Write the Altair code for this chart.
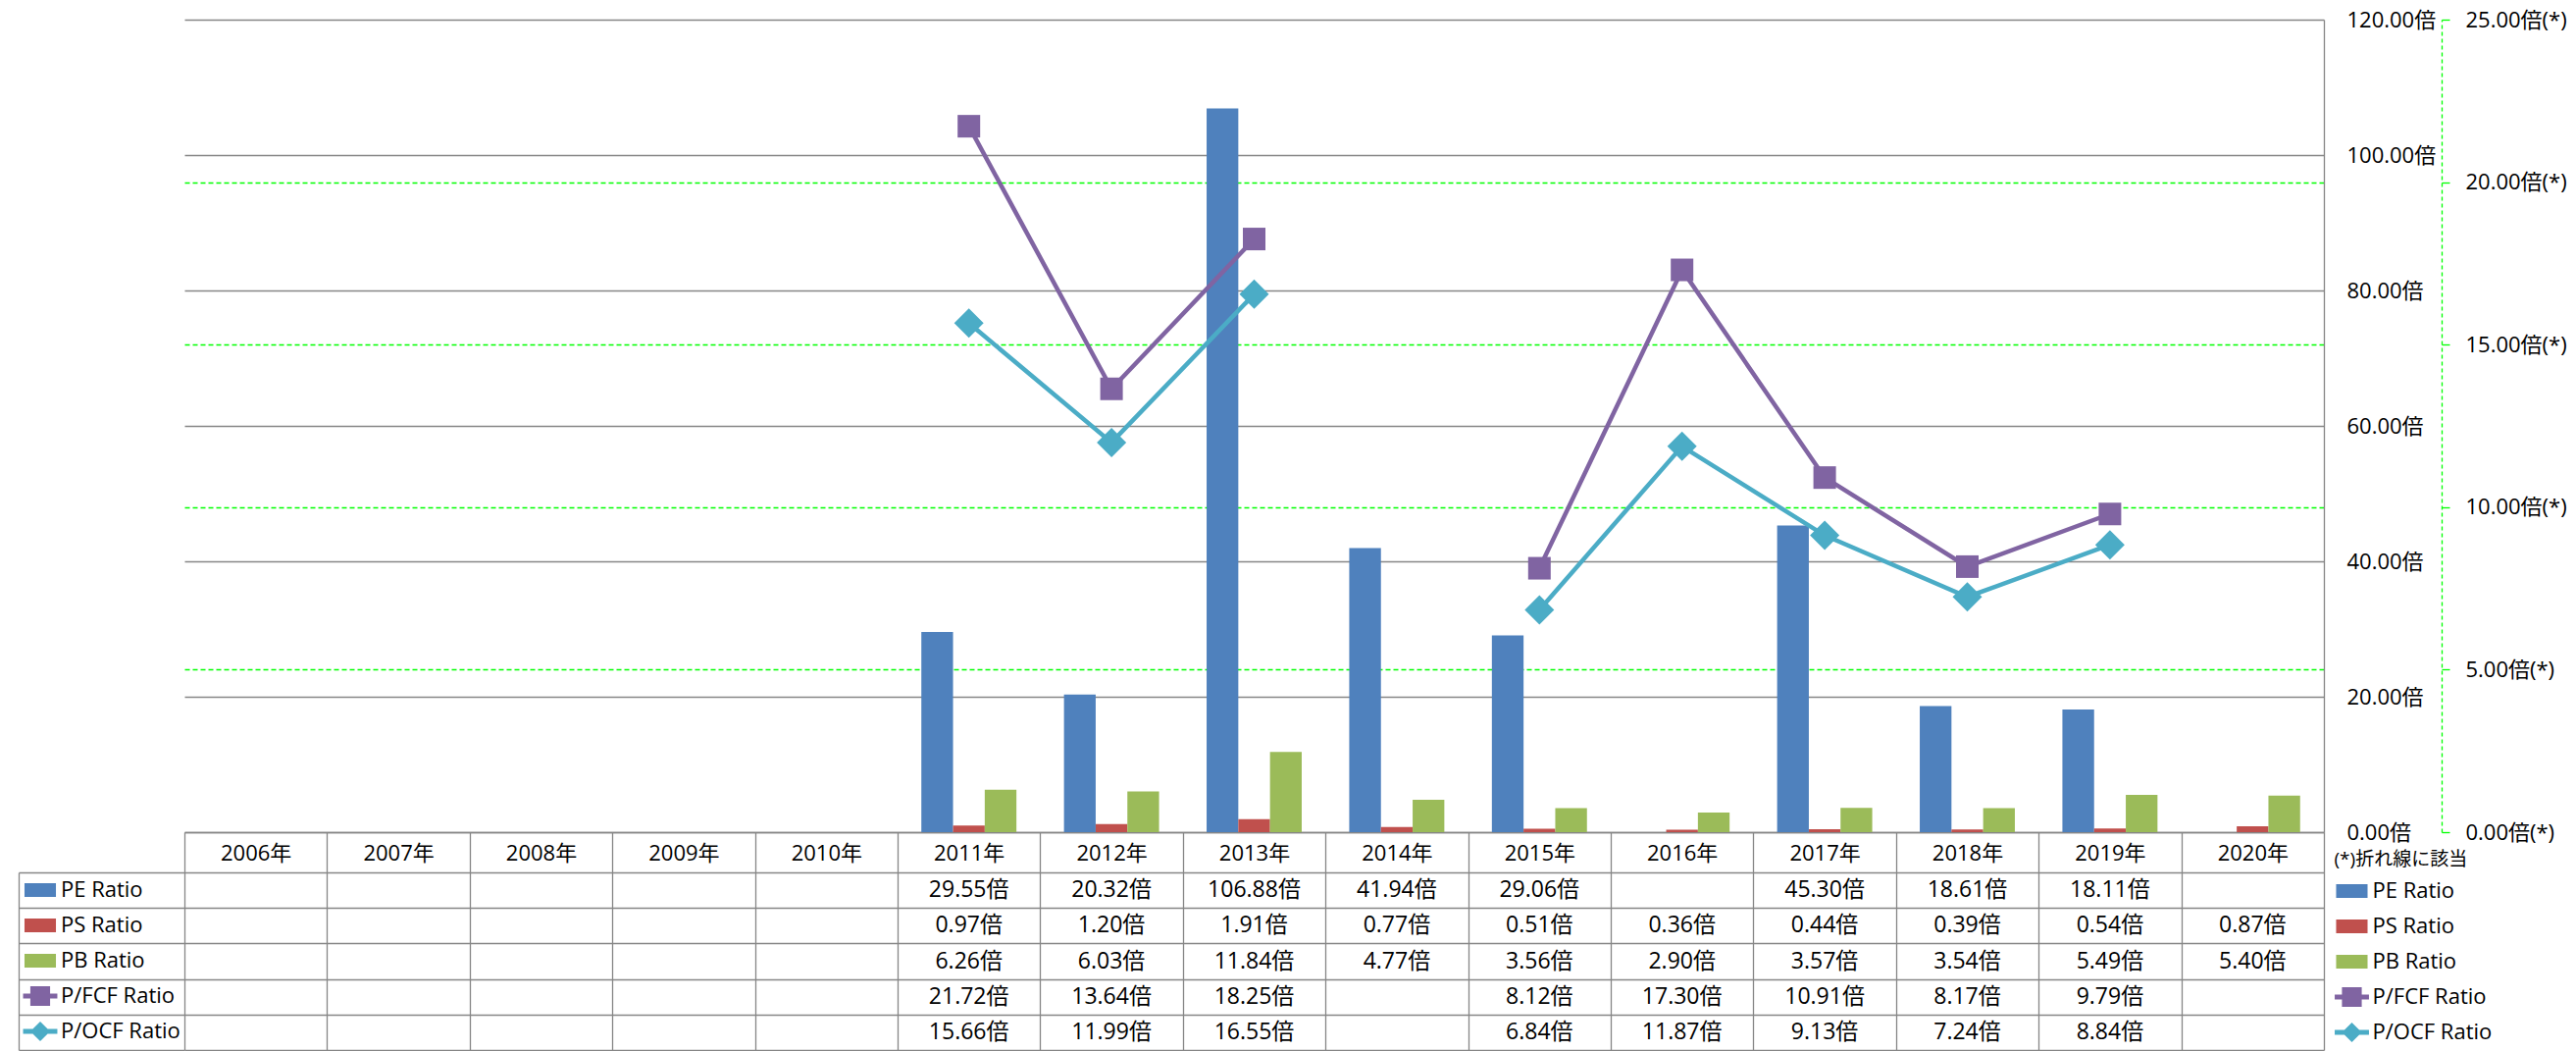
import altair as alt
import pandas as pd

# ---------------- data ----------------
years = ["2006年", "2007年", "2008年", "2009年", "2010年", "2011年", "2012年", "2013年",
         "2014年", "2015年", "2016年", "2017年", "2018年", "2019年", "2020年"]
series = ["PE Ratio", "PS Ratio", "PB Ratio", "P/FCF Ratio", "P/OCF Ratio"]
bar_series = ["PE Ratio", "PS Ratio", "PB Ratio"]
line_series = ["P/FCF Ratio", "P/OCF Ratio"]

pe = [None, None, None, None, None, 29.55, 20.32, 106.88, 41.94, 29.06, None, 45.30, 18.61, 18.11, None]
ps = [None, None, None, None, None, 0.97, 1.20, 1.91, 0.77, 0.51, 0.36, 0.44, 0.39, 0.54, 0.87]
pb = [None, None, None, None, None, 6.26, 6.03, 11.84, 4.77, 3.56, 2.90, 3.57, 3.54, 5.49, 5.40]
fcf = [None, None, None, None, None, 21.72, 13.64, 18.25, None, 8.12, 17.30, 10.91, 8.17, 9.79, None]
ocf = [None, None, None, None, None, 15.66, 11.99, 16.55, None, 6.84, 11.87, 9.13, 7.24, 8.84, None]

left_ticks = [0, 20, 40, 60, 80, 100, 120]
right_ticks = [0, 5, 10, 15, 20, 25]

colors = ["#4F81BD", "#C0504D", "#9BBB59", "#8064A2", "#4BACC6"]

# ---------------- styling ----------------
FONT = "Open Sans, Noto Sans CJK JP, sans-serif"
GRAY = "#868686"
GREEN = "#00FF00"
W, H = 2181, 828
TABLE_H = 222

# legend key shapes (custom paths)
legend_paths = [
    "M-0.89,-0.39H0.89V0.39H-0.89Z",
    "M-0.89,-0.39H0.89V0.39H-0.89Z",
    "M-0.89,-0.39H0.89V0.39H-0.89Z",
    "M-0.97,-0.14H-0.56V-0.56H0.56V-0.14H0.97V0.14H0.56V0.56H-0.56V0.14H-0.97Z",
    "M-0.97,-0.14H-0.42L0,-0.56L0.42,-0.14H0.97V0.14H0.42L0,0.56L-0.42,0.14H-0.97Z",
]

values = {"PE Ratio": pe, "PS Ratio": ps, "PB Ratio": pb, "P/FCF Ratio": fcf, "P/OCF Ratio": ocf}
rows = []
for s in series:
    for yr, v in zip(years, values[s]):
        rows.append({"year": yr, "series": s, "value": v})
df = pd.DataFrame(rows)
df["value"] = df["value"].astype(float)

bar_df = df[df["series"].isin(bar_series) & df["value"].notna()]
line_df = df[df["series"].isin(line_series)]
point_df = line_df[line_df["value"].notna()]
text_df = df[df["value"].notna()]
legend_df = pd.DataFrame({"series": series})

xs = alt.Scale(domain=years, paddingInner=0, paddingOuter=0)
y1s = alt.Scale(domain=[0, 120], nice=False, zero=True)
y2s = alt.Scale(domain=[0, 25], nice=False, zero=True)
table_scale = alt.Scale(domain=series, range=[H + 41, H + TABLE_H], paddingInner=0, paddingOuter=0)

x_axis = alt.Axis(orient="bottom", title=None, domain=True, domainColor=GRAY, domainWidth=1.3,
                  ticks=True, tickBand="extent", tickSize=TABLE_H, tickColor=GRAY, tickWidth=1.3,
                  labels=True, labelAngle=0, labelPadding=-(TABLE_H - 21), labelBaseline="middle",
                  labelFont=FONT, labelFontSize=22, labelColor="black", grid=False)

y1_axis = alt.Axis(orient="right", title=None, values=left_ticks, domain=True, domainColor=GRAY,
                   domainWidth=1.3, ticks=False, labelPadding=23, labelFont=FONT, labelFontSize=22,
                   labelColor="black", labelExpr="format(datum.value, '.2f') + '倍'",
                   grid=True, gridColor=GRAY, gridWidth=1.3)

y2_axis = alt.Axis(orient="right", offset=120, title=None, values=right_ticks, domain=True,
                   domainColor=GREEN, domainDash=[4, 3], domainWidth=1.3,
                   ticks=True, tickColor=GREEN, tickSize=8, tickWidth=1.3,
                   labelPadding=16, labelFont=FONT, labelFontSize=22, labelColor="black",
                   labelExpr="format(datum.value, '.2f') + '倍(*)'",
                   grid=True, gridColor=GREEN, gridDash=[5, 3], gridWidth=1.3,
                   gridOpacity={"condition": {"test": "datum.value <= 0 || datum.value >= 25", "value": 0},
                                "value": 1})

table_axis_a = alt.Axis(orient="left", offset=169, title=None, domain=True, domainColor=GRAY,
                        domainWidth=1.3, ticks=False, labels=False, grid=True, gridColor=GRAY,
                        gridWidth=1.3, tickBand="extent")

table_axis_b = alt.Axis(orient="left", offset=0, title=None, domain=False, ticks=True,
                        tickSize=169, tickColor=GRAY, tickWidth=1.3, tickBand="extent",
                        labels=False, grid=False)

# ---------------- chart layers ----------------
X = alt.X("year:N", scale=xs, axis=x_axis)

bars = alt.Chart(bar_df).mark_bar().encode(
    x=X,
    xOffset=alt.XOffset("series:N", scale=alt.Scale(domain=bar_series, paddingInner=0, paddingOuter=0.75)),
    y=alt.Y("value:Q", scale=y1s, axis=y1_axis),
    color=alt.Color("series:N", scale=alt.Scale(domain=bar_series, range=colors[:3]), legend=None),
)

line_color = alt.Scale(domain=line_series, range=colors[3:])

lines = alt.Chart(line_df).mark_line(strokeWidth=4.5, invalid="break-paths-show-domains").encode(
    x=X,
    y=alt.Y("value:Q", scale=y2s, axis=y2_axis),
    color=alt.Color("series:N", scale=line_color, legend=None),
)

points = alt.Chart(point_df).mark_point(filled=True, opacity=1).encode(
    x=X,
    y=alt.Y("value:Q", scale=y2s, axis=y2_axis),
    color=alt.Color("series:N", scale=line_color, legend=None),
    shape=alt.Shape("series:N", scale=alt.Scale(domain=line_series, range=["square", "diamond"]), legend=None),
    size=alt.Size("series:N", scale=alt.Scale(domain=line_series, range=[529, 900]), legend=None),
)

line_layer = alt.layer(lines, points)

table_text = alt.Chart(text_df).transform_calculate(
    label="format(datum.value, '.2f') + '倍'"
).mark_text(font=FONT, fontSize=23, color="black", baseline="middle", align="center").encode(
    x=X,
    y=alt.Y("series:N", scale=table_scale, axis=table_axis_a),
    text=alt.Text("label:N"),
)

leg_common = dict(orient="none", direction="vertical", symbolSize=1296, symbolStrokeWidth=0,
                  labelFont=FONT, labelFontSize=22, labelColor="black", labelOffset=3,
                  rowPadding=7, padding=0, symbolOpacity=1)

left_legend = alt.Legend(title=None, legendX=-165, legendY=H + 41, **leg_common)
right_legend = alt.Legend(title="(*)折れ線に該当", titleFont=FONT, titleFontSize=19,
                          titleFontWeight="normal", titleColor="black", titlePadding=4,
                          legendX=2191.5, legendY=H + 19, **leg_common)

leg_color = alt.Scale(domain=series, range=colors)
leg_shape = alt.Scale(domain=series, range=legend_paths)

left_leg_layer = alt.Chart(legend_df).transform_filter("false").mark_point(filled=True, opacity=1).encode(
    y=alt.Y("series:N", scale=table_scale, axis=table_axis_b),
    color=alt.Color("series:N", scale=leg_color, legend=left_legend),
    shape=alt.Shape("series:N", scale=leg_shape, legend=left_legend),
)

right_leg_layer = alt.Chart(legend_df).transform_filter("false").mark_point(filled=True, opacity=1).encode(
    color=alt.Color("series:N", scale=leg_color, legend=right_legend),
    shape=alt.Shape("series:N", scale=leg_shape, legend=right_legend),
)

chart = alt.layer(
    table_text, left_leg_layer, right_leg_layer, bars, line_layer
).resolve_scale(
    y="independent", color="independent", shape="independent", size="independent"
).properties(
    width=W, height=H,
    autosize=alt.AutoSizeParams(type="none"),
    padding={"left": 180, "top": 12, "right": 249, "bottom": 223},
    background="white",
).configure_view(strokeWidth=0)

chart.save("out.html", embed_options={"renderer": "svg", "actions": False})
